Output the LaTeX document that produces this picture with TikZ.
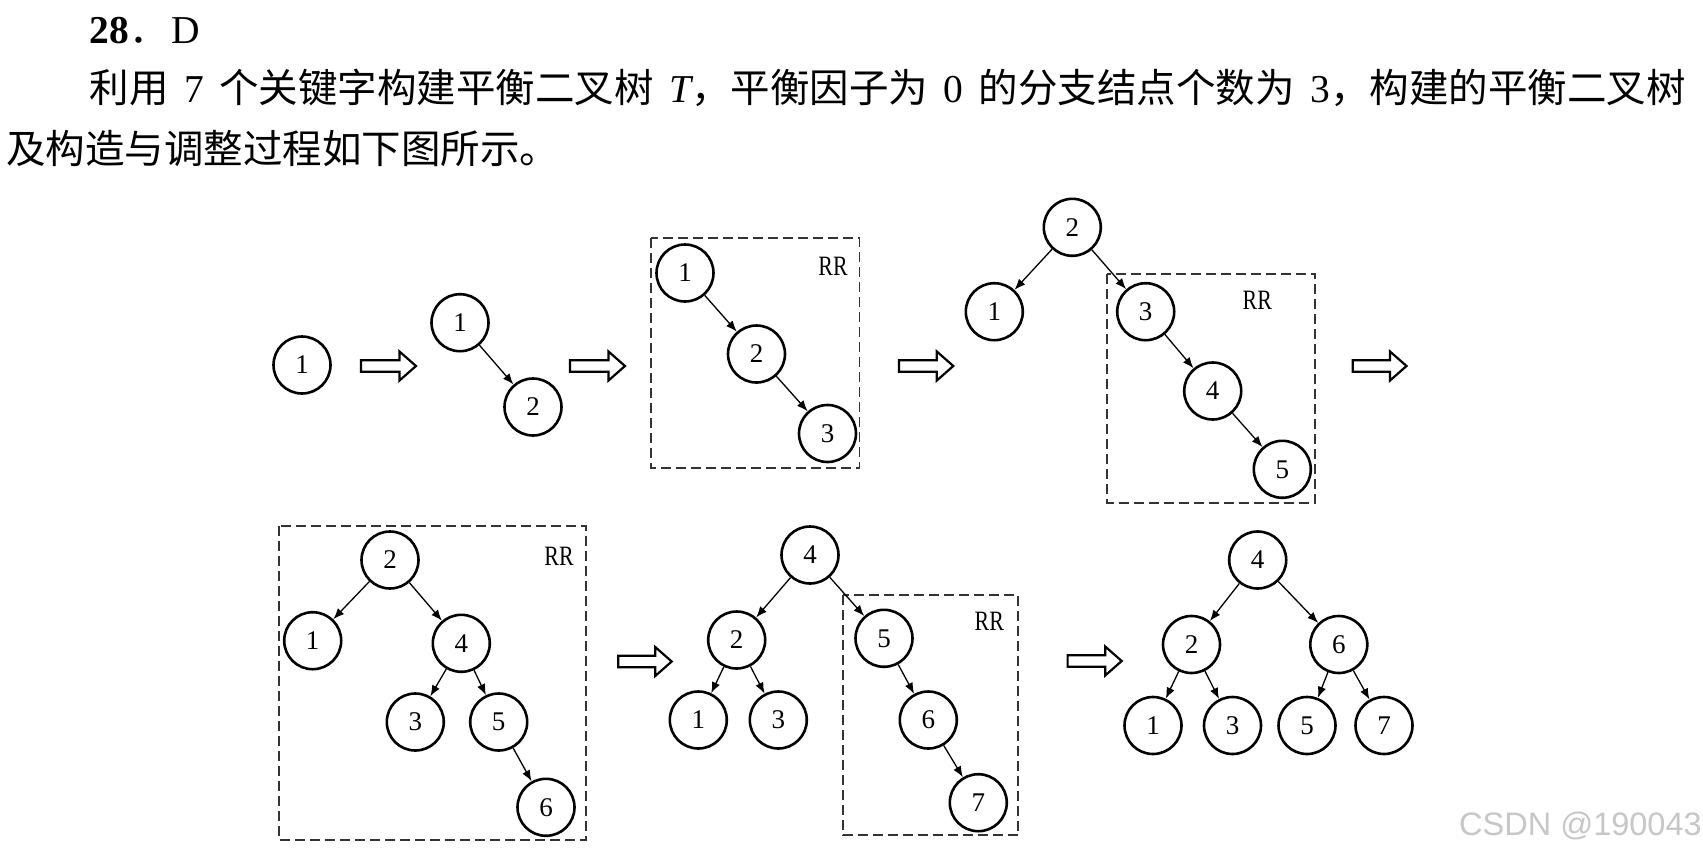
\documentclass[tikz,border=0pt]{standalone}
\usepackage{fontspec}
\setmainfont{Liberation Serif}
\newfontfamily\cjk{Noto Sans CJK SC}
\newfontfamily\wmfont{Liberation Sans}
\usetikzlibrary{arrows.meta}
\newcommand\hollowarrow[3]{%
  \draw[fatarrow] (#1,#3-5.8) -- (#2-16.5,#3-5.8) -- (#2-16.5,#3-14.5) -- (#2,#3)
    -- (#2-16.5,#3+14.5) -- (#2-16.5,#3+5.8) -- (#1,#3+5.8) -- cycle;}
\begin{document}
\begin{tikzpicture}[x=1pt,y=-1pt,
  tnode/.style={circle,draw,line width=2.6pt,minimum size=57pt,inner sep=0pt,
    font=\fontsize{27}{27}\selectfont},
  edge/.style={line width=1.3pt,-{Latex[length=11pt,width=8.5pt]}},
  rrbox/.style={draw=black!80,line width=1.8pt,dash pattern=on 10pt off 5pt},
  rrlabel/.style={inner sep=0pt,font=\fontsize{28}{28}\selectfont},
  fatarrow/.style={draw,line width=2.2pt,line join=miter,fill=white},
  txt/.style={anchor=base west,inner sep=0pt,font=\fontsize{39.5}{47}\selectfont}
]
\useasboundingbox (0,0) rectangle (1703,852);
\fill[white] (0,0) rectangle (1703,852);

% text
\node[txt] (title) at (89.3,43.3) {\textbf{28}{\cjk ．}\hspace{2.5pt}D};
\node[txt] (line1) at (89.3,102) {\cjk 利用\hspace{15.5pt}{\rmfamily 7}\hspace{15.5pt}个关键字构建平衡二叉树\hspace{15.5pt}{\rmfamily\itshape T}，平衡因子为\hspace{15.5pt}{\rmfamily 0}\hspace{15.5pt}的分支结点个数为\hspace{15.5pt}{\rmfamily 3}，构建的平衡二叉树};
\node[txt] (line2) at (6,163) {\cjk 及构造与调整过程如下图所示。};

% tree 1
\node[tnode] (a1) at (302,365) {1};
\hollowarrow{361}{416}{366}

% tree 2
\node[tnode] (b1) at (460,322.7) {1};
\node[tnode] (b2) at (533,407) {2};
\draw[edge] (b1) -- (b2);
\hollowarrow{570}{625}{366}

% tree 3
\draw[rrbox] (651,238.3) rectangle (859.4,468.3);
\node[rrlabel] (rr3) at (833,266) {\scalebox{0.78}[1]{RR}};
\node[tnode] (c1) at (685,273) {1};
\node[tnode] (c2) at (756.5,354) {2};
\node[tnode] (c3) at (827.5,433.5) {3};
\draw[edge] (c1) -- (c2);
\draw[edge] (c2) -- (c3);
\hollowarrow{899}{953.3}{366}

% tree 4
\draw[rrbox] (1107.3,274) rectangle (1315.3,502.7);
\node[rrlabel] (rr4) at (1257.3,300) {\scalebox{0.78}[1]{RR}};
\node[tnode] (d2) at (1072.3,227.3) {2};
\node[tnode] (d1) at (994.3,311.7) {1};
\node[tnode] (d3) at (1145.7,311.7) {3};
\node[tnode] (d4) at (1212.7,391) {4};
\node[tnode] (d5) at (1282.3,469.3) {5};
\draw[edge] (d2) -- (d1);
\draw[edge] (d2) -- (d3);
\draw[edge] (d3) -- (d4);
\draw[edge] (d4) -- (d5);
\hollowarrow{1352.7}{1406.5}{366}

% tree 5
\draw[rrbox] (279.3,526) rectangle (586,840);
\node[rrlabel] (rr5) at (559,556.7) {\scalebox{0.78}[1]{RR}};
\node[tnode] (e2) at (390,560) {2};
\node[tnode] (e1) at (312.7,640.7) {1};
\node[tnode] (e4) at (461.3,643.3) {4};
\node[tnode] (e3) at (415.3,722) {3};
\node[tnode] (e5) at (498.7,722) {5};
\node[tnode] (e6) at (546,807.3) {6};
\draw[edge] (e2) -- (e1);
\draw[edge] (e2) -- (e4);
\draw[edge] (e4) -- (e3);
\draw[edge] (e4) -- (e5);
\draw[edge] (e5) -- (e6);
\hollowarrow{618.3}{671.7}{661.5}

% tree 6
\draw[rrbox] (842.7,595) rectangle (1018.3,835);
\node[rrlabel] (rr6) at (989.3,621.7) {\scalebox{0.78}[1]{RR}};
\node[tnode] (f4) at (810,555) {4};
\node[tnode] (f2) at (736.7,640) {2};
\node[tnode] (f5) at (884,638.3) {5};
\node[tnode] (f1) at (698.3,720) {1};
\node[tnode] (f3) at (778.3,720) {3};
\node[tnode] (f6) at (928.3,720) {6};
\node[tnode] (f7) at (978.3,802.7) {7};
\draw[edge] (f4) -- (f2);
\draw[edge] (f4) -- (f5);
\draw[edge] (f2) -- (f1);
\draw[edge] (f2) -- (f3);
\draw[edge] (f5) -- (f6);
\draw[edge] (f6) -- (f7);
\hollowarrow{1067.6}{1121.7}{661}

% tree 7
\node[tnode] (g4) at (1257.7,560) {4};
\node[tnode] (g2) at (1191.5,644.5) {2};
\node[tnode] (g6) at (1338.8,644.5) {6};
\node[tnode] (g1) at (1153,725.5) {1};
\node[tnode] (g3) at (1232.5,725.5) {3};
\node[tnode] (g5) at (1307,725.5) {5};
\node[tnode] (g7) at (1384,725.5) {7};
\draw[edge] (g4) -- (g2);
\draw[edge] (g4) -- (g6);
\draw[edge] (g2) -- (g1);
\draw[edge] (g2) -- (g3);
\draw[edge] (g6) -- (g5);
\draw[edge] (g6) -- (g7);

% watermark
\node[anchor=base west,inner sep=0pt,text=black!22,font=\wmfont\fontsize{32.5}{33}\selectfont] (wm) at (1459,835) {CSDN @190043};
\end{tikzpicture}
\end{document}
